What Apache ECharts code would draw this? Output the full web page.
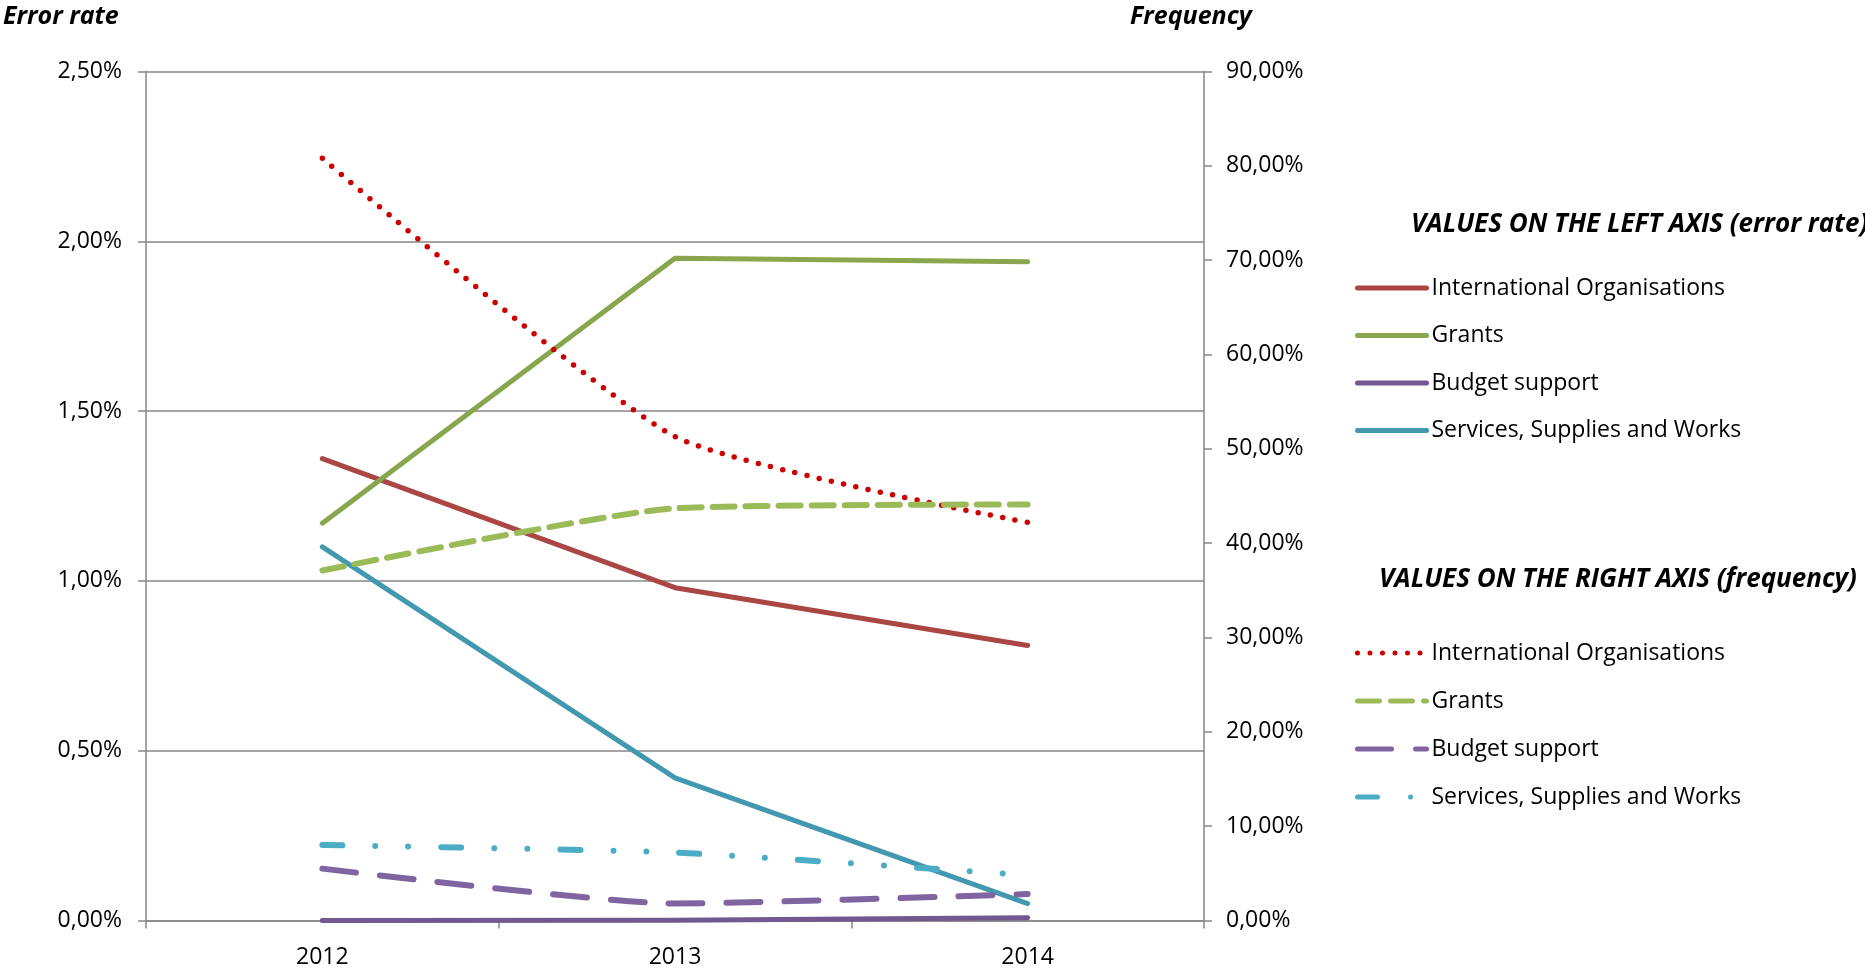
<!DOCTYPE html>
<html>
<head>
<meta charset="utf-8">
<title>Error rate and frequency by management mode</title>
<script src="https://cdn.jsdelivr.net/npm/echarts@6/dist/echarts.min.js"></script>
<style>
  html, body { margin: 0; padding: 0; background: #ffffff; }
  #chart { width: 1865px; height: 969px; }
</style>
</head>
<body>
<div id="chart"></div>
<script>
// Years on the category axis
const years = ['2012', '2013', '2014'];

// Error rate, in percent (left axis)
const errorIO       = [1.36, 0.98, 0.81];
const errorGrants   = [1.17, 1.95, 1.94];
const errorBudget   = [0.00, 0.001, 0.008];
const errorServices = [1.10, 0.42, 0.05];

// Frequency, in percent (right axis)
const freqIO       = [80.8, 51.3, 42.2];
const freqGrants   = [37.1, 43.7, 44.1];
const freqBudget   = [5.5, 1.8, 2.8];
const freqServices = [8.0, 7.2, 4.8];

// Category names shown in both legends
const categoryNames = ['International Organisations', 'Grants', 'Budget support', 'Services, Supplies and Works'];

// Axis ranges
const leftMax = 2.5, leftStep = 0.5;
const rightMax = 90, rightStep = 10;

const FONT = 'Open Sans';
const AXIS_GREY = '#868686';

const LEFT_SUFFIX = ' (error rate)';
const RIGHT_SUFFIX = ' (frequency)';

function pct(v) {
  return v.toFixed(2).replace('.', ',') + '%';
}

const solidColors = ['#AA4643', '#89A54E', '#71588F', '#4198AF'];
const errorData = [errorIO, errorGrants, errorBudget, errorServices];

const freqColors = ['#CC0000', '#9BBB59', '#8064A2', '#4BACC6'];
const freqData = [freqIO, freqGrants, freqBudget, freqServices];
const freqDash = [
  [0, 12.5],                   // round dots
  [22, 11],                    // dashes
  [34, 24],                    // long dashes
  [20, 33, 0, 33, 0, 33]       // long dash, dot, dot
];

const series = [];
categoryNames.forEach((n, i) => {
  series.push({
    name: n + LEFT_SUFFIX,
    type: 'line',
    yAxisIndex: 0,
    data: errorData[i],
    symbol: 'none',
    smooth: false,
    lineStyle: { color: solidColors[i], width: 5, cap: 'round', join: 'round' },
    itemStyle: { color: solidColors[i] },
    z: 3
  });
});
categoryNames.forEach((n, i) => {
  series.push({
    name: n + RIGHT_SUFFIX,
    type: 'line',
    yAxisIndex: 1,
    data: freqData[i],
    symbol: 'none',
    smooth: 0.18,
    lineStyle: { color: freqColors[i], width: i === 0 ? 5.5 : 6, type: freqDash[i], cap: 'round', join: 'round' },
    itemStyle: { color: freqColors[i] },
    z: 3
  });
});

const legendText = { fontFamily: FONT, fontSize: 23, color: '#000000', lineHeight: 24 };
const stripSuffix = name => name.replace(LEFT_SUFFIX, '').replace(RIGHT_SUFFIX, '');

const titleStyle = { fontFamily: FONT, fontSize: 25, fontWeight: 'bold', fontStyle: 'italic', color: '#000000' };
const headerStyle = { fontFamily: FONT, fontSize: 26, fontWeight: 'bold', fontStyle: 'italic', color: '#000000' };

// Legend keys show only the line, no point marker
const legendBase = {
  orient: 'vertical', left: 1350,
  itemWidth: 69, itemHeight: 14,
  formatter: stripSuffix, textStyle: legendText,
  lineStyle: { width: 5 },
  itemStyle: { opacity: 0, borderWidth: 0 },
  selectedMode: false
};

const option = {
  backgroundColor: '#ffffff',
  animation: false,
  title: [
    { text: 'Error rate', left: 3, top: 4, padding: 0, textStyle: titleStyle },
    { text: 'Frequency', left: 1130, top: 4, padding: 0, textStyle: titleStyle },
    { text: 'VALUES ON THE LEFT AXIS (error rate)', left: 1411, top: 212, padding: 0, textStyle: headerStyle },
    { text: 'VALUES ON THE RIGHT AXIS (frequency)', left: 1379, top: 567, padding: 0, textStyle: headerStyle }
  ],
  legend: [
    Object.assign({}, legendBase, {
      data: categoryNames.map(n => n + LEFT_SUFFIX),
      top: 271, itemGap: 23.5
    }),
    Object.assign({}, legendBase, {
      data: categoryNames.map(n => n + RIGHT_SUFFIX),
      top: 636, itemGap: 24
    })
  ],
  grid: { left: 146, right: 661, top: 71.5, bottom: 48.5, containLabel: false },
  xAxis: {
    type: 'category',
    data: years,
    boundaryGap: true,
    axisLine: { lineStyle: { color: AXIS_GREY, width: 1.5 } },
    axisTick: { show: true, length: 8, lineStyle: { color: AXIS_GREY, width: 1.5 } },
    axisLabel: { fontFamily: FONT, fontSize: 23, color: '#000000', margin: 25 }
  },
  yAxis: [
    {
      type: 'value', position: 'left',
      min: 0, max: leftMax, interval: leftStep,
      axisLine: { show: true, lineStyle: { color: AXIS_GREY, width: 1.5 } },
      axisTick: { show: true, length: 8, lineStyle: { color: AXIS_GREY, width: 1.5 } },
      splitLine: { show: true, lineStyle: { color: AXIS_GREY, width: 1.5 } },
      axisLabel: { fontFamily: FONT, fontSize: 23, color: '#000000', margin: 24, padding: [5, 0, 0, 0], formatter: pct }
    },
    {
      type: 'value', position: 'right',
      min: 0, max: rightMax, interval: rightStep,
      axisLine: { show: true, lineStyle: { color: AXIS_GREY, width: 1.5 } },
      axisTick: { show: true, length: 8, lineStyle: { color: AXIS_GREY, width: 1.5 } },
      splitLine: { show: false },
      axisLabel: { fontFamily: FONT, fontSize: 23, color: '#000000', margin: 22, padding: [5, 0, 0, 0], formatter: pct }
    }
  ],
  series: series
};

const chart = echarts.init(document.getElementById('chart'), null, { renderer: 'canvas' });
chart.setOption(option);
</script>
</body>
</html>
